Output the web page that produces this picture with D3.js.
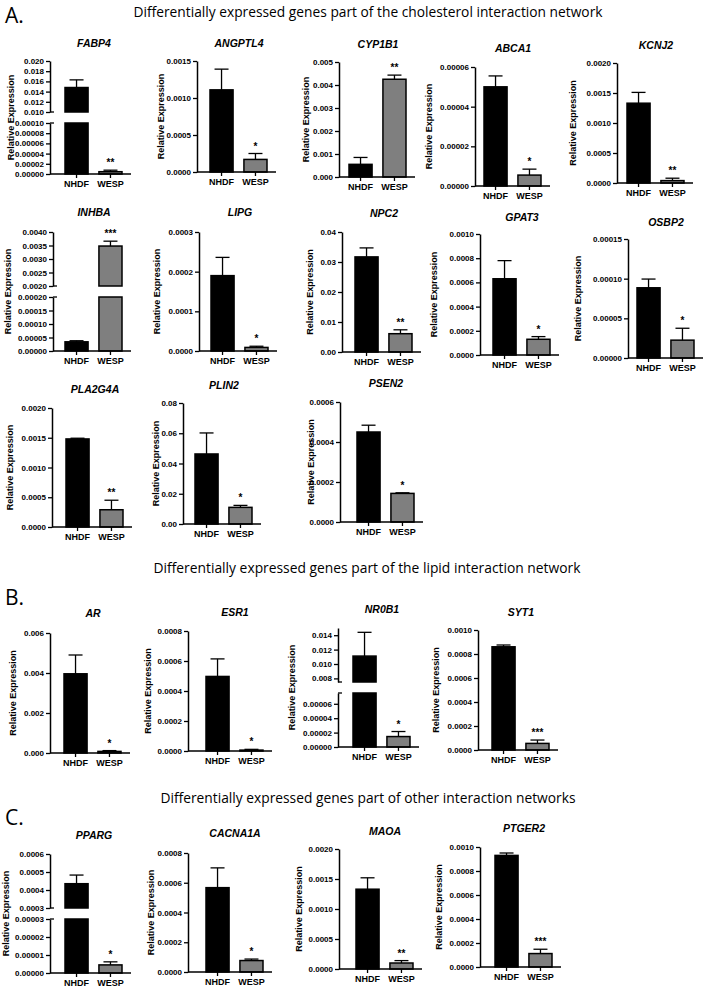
<!DOCTYPE html>
<html>
<head>
<meta charset="utf-8">
<script src="https://cdn.jsdelivr.net/npm/d3@7"></script>
<style>
  body { margin: 0; background: #fff; }
  text { font-family: "Liberation Sans", Arial, sans-serif; }
</style>
</head>
<body>
<script>
  // Genes and groups
  const genes = ["FABP4", "ANGPTL4", "CYP1B1", "ABCA1", "KCNJ2",
    "INHBA", "LIPG", "NPC2", "GPAT3", "OSBP2",
    "PLA2G4A", "PLIN2", "PSEN2",
    "AR", "ESR1", "NR0B1", "SYT1",
    "PPARG", "CACNA1A", "MAOA", "PTGER2"];
  const groups = ["NHDF", "WESP"];

  // Mean relative expression and SEM
  const nhdfMean = [0.0148, 0.00111, 0.00055, 0.00005, 0.00133,
    0.000034, 0.00019, 0.0317, 0.00063, 0.0000885,
    0.00148, 0.0463, 0.00045,
    0.00396, 0.000497, 0.0111, 0.00086,
    0.000435, 0.000567, 0.00133, 0.00093];
  const nhdfSem = [0.0015, 0.00028, 0.0003, 0.0000055, 0.00018,
    0.000004, 0.000046, 0.003, 0.00015, 0.000011,
    0.000012, 0.0139, 0.000034,
    0.00094, 0.000117, 0.0033, 0.000015,
    0.000048, 0.000133, 0.00019, 0.00002];
  const wespMean = [0.0000045, 0.00017, 0.00425, 0.0000055, 0.00004,
    0.00348, 0.000009, 0.0061, 0.00013, 0.0000225,
    0.00029, 0.011, 0.000143,
    0.00008, 0.000006, 0.0000145, 0.000055,
    0.0000045, 0.000077, 0.0001, 0.000112];
  const wespSem = [0.000003, 0.00008, 0.00018, 0.000003, 0.00004,
    0.00018, 0.000003, 0.0013, 0.000022, 0.000015,
    0.00016, 0.0013, 0.000003,
    0.00004, 0.000005, 0.000007, 0.000028,
    0.0000017, 0.00001, 0.00004, 0.000036];
  const stars = ["**", "*", "**", "*", "**",
    "***", "*", "**", "*", "*",
    "**", "*", "*",
    "*", "*", "*", "***",
    "*", "*", "**", "***"];

  // Y axis segments: [min, max, tick step, first tick]; two segments = broken axis
  const axisSegs = [
    [[0, 0.0001, 0.00002], [0.010, 0.020, 0.002]],
    [[0, 0.0015, 0.0005]],
    [[0, 0.005, 0.001]],
    [[0, 0.00006, 0.00002]],
    [[0, 0.002, 0.0005]],
    [[0, 0.0002, 0.00005], [0.002, 0.004, 0.0005]],
    [[0, 0.0003, 0.0001]],
    [[0, 0.04, 0.01]],
    [[0, 0.001, 0.0002]],
    [[0, 0.00015, 0.00005]],
    [[0, 0.002, 0.0005]],
    [[0, 0.08, 0.02]],
    [[0, 0.0006, 0.0002]],
    [[0, 0.006, 0.002]],
    [[0, 0.0008, 0.0002]],
    [[0, 0.000075, 0.00002], [0.0075, 0.015, 0.002, 0.008]],
    [[0, 0.001, 0.0002]],
    [[0, 0.00003, 0.00001], [0.0003, 0.0006, 0.0001]],
    [[0, 0.0008, 0.0002]],
    [[0, 0.002, 0.0005]],
    [[0, 0.001, 0.0002]]
  ];

  // Section headings
  const sections = [
    { letter: "A.", title: "Differentially expressed genes part of the cholesterol interaction network" },
    { letter: "B.", title: "Differentially expressed genes part of the lipid interaction network" },
    { letter: "C.", title: "Differentially expressed genes part of other interaction networks" }
  ];

  // Panel placement (pixels): y axis x, first bar x, segment pixel ranges, title y, y-label x
  const layout = [
    { ax: 50, x0: 65, seg: [[174, 123], [112, 61]], ty: 47, lx: 11 },
    { ax: 197, x0: 210, seg: [[172, 61]], ty: 47, lx: 161 },
    { ax: 339, x0: 349, seg: [[177, 62]], ty: 48, lx: 306 },
    { ax: 475, x0: 484, seg: [[186, 67]], ty: 52, lx: 429 },
    { ax: 617, x0: 627, seg: [[183, 63]], ty: 49, lx: 573 },
    { ax: 53, x0: 65, seg: [[351, 297], [286, 232]], ty: 216, lx: 8 },
    { ax: 199, x0: 211, seg: [[351, 232]], ty: 216, lx: 157 },
    { ax: 342, x0: 355, seg: [[352, 232]], ty: 217, lx: 310 },
    { ax: 480, x0: 493, seg: [[355, 234]], ty: 221, lx: 434 },
    { ax: 628, x0: 637, seg: [[358, 239]], ty: 226, lx: 578 },
    { ax: 52, x0: 66, seg: [[527, 408]], ty: 393, lx: 10 },
    { ax: 183, x0: 195, seg: [[524, 403]], ty: 389, lx: 156 },
    { ax: 340, x0: 357, seg: [[522, 402]], ty: 387, lx: 311 },
    { ax: 50, x0: 64, seg: [[753, 633]], ty: 617, lx: 13 },
    { ax: 188, x0: 206, seg: [[751, 631]], ty: 616, lx: 148 },
    { ax: 338, x0: 353, seg: [[747, 693], [682, 628]], ty: 613, lx: 292 },
    { ax: 478, x0: 492, seg: [[750, 630]], ty: 616, lx: 436 },
    { ax: 50, x0: 65, seg: [[973, 919], [908, 854]], ty: 839, lx: 6 },
    { ax: 188, x0: 206, seg: [[972, 853]], ty: 837, lx: 151 },
    { ax: 339, x0: 356, seg: [[969, 849]], ty: 835, lx: 299 },
    { ax: 480, x0: 495, seg: [[967, 847]], ty: 832, lx: 439 }
  ];
  const sectionPos = [
    { ly: 23, ty: 17, cx: 368, w: 469 },
    { ly: 605, ty: 573, cx: 367, w: 427 },
    { ly: 825, ty: 803, cx: 368, w: 415 }
  ];

  const svg = d3.select("body").append("svg")
    .attr("width", 709)
    .attr("height", 991);

  svg.append("rect").attr("width", 709).attr("height", 991).attr("fill", "#fff");

  // Section letters and titles
  sections.forEach(function (s, i) {
    const p = sectionPos[i];
    svg.append("text")
      .attr("x", 5).attr("y", p.ly)
      .style("font-family", "'Open Sans', 'Noto Sans', sans-serif")
      .style("font-size", "21px")
      .text(s.letter);
    svg.append("text")
      .attr("x", p.cx).attr("y", p.ty)
      .attr("text-anchor", "middle")
      .attr("textLength", p.w)
      .attr("lengthAdjust", "spacingAndGlyphs")
      .style("font-family", "'Open Sans', 'Noto Sans', sans-serif")
      .style("font-size", "14px")
      .text(s.title);
  });

  const greyFill = "#7f7f7f";

  genes.forEach(function (gene, i) {
    const p = layout[i];
    const segs = axisSegs[i];
    const g = svg.append("g");

    const x = d3.scaleBand()
      .domain(groups)
      .range([p.x0, p.x0 + 57])
      .paddingInner(0.32)
      .paddingOuter(0);

    const ys = segs.map((s, k) => d3.scaleLinear().domain([s[0], s[1]]).range(p.seg[k]));

    // Find the segment a value belongs to
    function segOf(v) {
      for (let k = segs.length - 1; k >= 0; k--) {
        if (v >= segs[k][0]) return k;
      }
      return 0;
    }

    // Y axes (one per segment)
    ys.forEach(function (y, k) {
      const s = segs[k];
      const start = s[3] !== undefined ? s[3] : s[0];
      const ticks = d3.range(start, s[1] + s[2] / 100, s[2]);
      const axis = g.append("g")
        .attr("transform", `translate(${p.ax},0)`)
        .call(d3.axisLeft(y)
          .tickValues(ticks)
          .tickFormat(d3.format(`.${d3.precisionFixed(s[2])}f`))
          .tickSize(4)
          .tickPadding(2)
          .tickSizeOuter(0));
      axis.select(".domain").attr("stroke-width", 1.5);
      axis.selectAll(".tick line").attr("stroke-width", 1.3);
      axis.selectAll("text")
        .style("font-family", "'Liberation Sans', Arial, sans-serif")
        .style("font-size", "8px")
        .style("font-weight", "bold")
        .attr("fill", "#000");
    });

    // Break hooks on broken axes
    if (segs.length > 1) {
      [p.seg[0][1], p.seg[1][0]].forEach(function (yy) {
        g.append("line")
          .attr("x1", p.ax).attr("x2", p.ax + 4)
          .attr("y1", yy).attr("y2", yy)
          .attr("stroke", "#000").attr("stroke-width", 1.3);
      });
    }

    // Bars
    const means = [nhdfMean[i], wespMean[i]];
    const sems = [nhdfSem[i], wespSem[i]];
    groups.forEach(function (grp, j) {
      const m = means[j];
      ys.forEach(function (y, k) {
        const lo = segs[k][0], hi = segs[k][1];
        if (m <= lo) return;
        const top = y(Math.min(m, hi));
        g.append("rect")
          .attr("x", x(grp))
          .attr("y", top)
          .attr("width", x.bandwidth())
          .attr("height", y(lo) - top)
          .attr("fill", j === 0 ? "#000" : greyFill)
          .attr("stroke", "#000")
          .attr("stroke-width", 1.5);
      });

      // Error bar (upper half only)
      const e = m + sems[j];
      const k = segOf(e);
      const y = ys[k];
      const cx = x(grp) + x.bandwidth() / 2;
      const yTop = y(e);
      const yBar = y(Math.max(m, segs[k][0]));
      g.append("line")
        .attr("x1", cx).attr("x2", cx)
        .attr("y1", yBar).attr("y2", yTop)
        .attr("stroke", "#000").attr("stroke-width", 1.3);
      g.append("line")
        .attr("x1", cx - 7).attr("x2", cx + 7)
        .attr("y1", yTop).attr("y2", yTop)
        .attr("stroke", "#000").attr("stroke-width", 1.3);

      // Significance stars above WESP
      if (j === 1) {
        g.append("text")
          .attr("x", cx)
          .attr("y", yTop - 4)
          .attr("text-anchor", "middle")
          .style("font-size", "10px")
          .style("font-weight", "bold")
          .text(stars[i]);
      }
    });

    // X axis
    const bottom = p.seg[0][0];
    g.append("line")
      .attr("x1", p.ax).attr("x2", p.x0 + 66)
      .attr("y1", bottom).attr("y2", bottom)
      .attr("stroke", "#000").attr("stroke-width", 1.5);
    const xAxis = g.append("g")
      .attr("transform", `translate(0,${bottom})`)
      .call(d3.axisBottom(x).tickSize(4).tickPadding(3).tickSizeOuter(0));
    xAxis.select(".domain").remove();
    xAxis.selectAll(".tick line").attr("stroke-width", 1.3);
    xAxis.selectAll("text")
      .style("font-family", "'Liberation Sans', Arial, sans-serif")
      .style("font-size", "9px")
      .style("font-weight", "bold")
      .attr("fill", "#000");

    // Gene title
    g.append("text")
      .attr("x", p.x0 + 29)
      .attr("y", p.ty)
      .attr("text-anchor", "middle")
      .style("font-size", "10.5px")
      .style("font-weight", "bold")
      .style("font-style", "italic")
      .text(gene);

    // Y label
    const top = p.seg[p.seg.length - 1][1];
    const mid = (top + bottom) / 2;
    g.append("text")
      .attr("transform", `translate(${p.lx},${mid}) rotate(-90)`)
      .attr("text-anchor", "middle")
      .attr("dominant-baseline", "central")
      .style("font-size", "9px")
      .style("font-weight", "bold")
      .text("Relative Expression");
  });
</script>
</body>
</html>
